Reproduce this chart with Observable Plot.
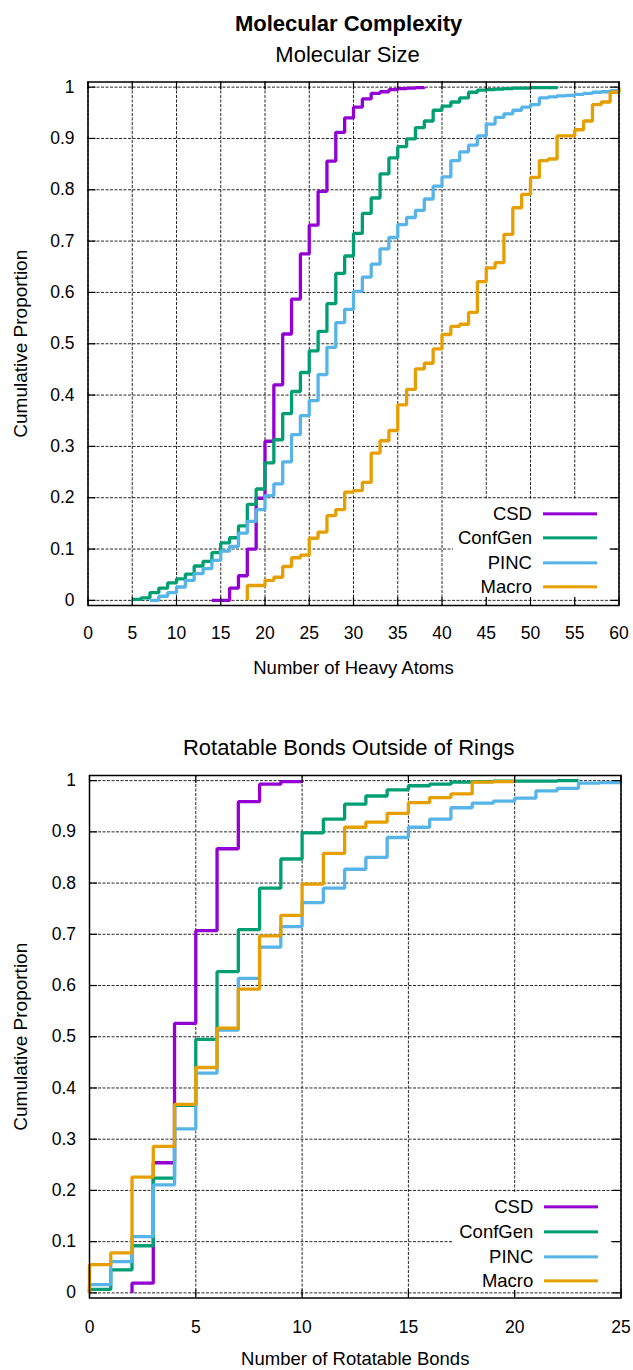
<!DOCTYPE html>
<html>
<head>
<meta charset="utf-8">
<script src="https://cdn.jsdelivr.net/npm/d3@7"></script>
<script src="https://cdn.jsdelivr.net/npm/@observablehq/plot@0.6"></script>
<style>
  body { margin: 0; background: #fff; font-family: "Liberation Sans", Arial, sans-serif; }
  #page { position: relative; width: 633px; height: 1370px; overflow: hidden; background: #fff; }
  #page svg { position: absolute; left: 0; }
  .ttl { position: absolute; white-space: nowrap; color: #000; font-size: 22px; line-height: 22px; transform: translateX(-50%); }
  .leg { position: absolute; background: #fff; }
  .leg .lab { position: absolute; font-size: 18.5px; line-height: 18.5px; color: #000; white-space: nowrap; transform: translate(-100%, -50%); }
  .leg .sw { position: absolute; height: 0; border-top: 3.3px solid; transform: translateY(-1.65px); }
</style>
</head>
<body>
<div id="page"></div>
<script>
// ---------------- data ----------------
const seriesNames = ["CSD", "ConfGen", "PINC", "Macro"];
const seriesColors = ["#9400D3", "#009E73", "#56B4E9", "#E69F00"];

const yTicks = [0, 0.1, 0.2, 0.3, 0.4, 0.5, 0.6, 0.7, 0.8, 0.9, 1];
const heavyTicks = [0, 5, 10, 15, 20, 25, 30, 35, 40, 45, 50, 55, 60];
const rotTicks = [0, 5, 10, 15, 20, 25];

// Molecular size: number of heavy atoms (cumulative proportion)
const sizeCSDx = [14, 16, 17, 18, 19, 20, 21, 22, 23, 24, 25, 26, 27, 28, 29, 30, 31, 32, 33, 34, 35, 36, 37, 38];
const sizeCSDy = [0, 0.024, 0.048, 0.100, 0.199, 0.310, 0.420, 0.519, 0.587, 0.675, 0.731, 0.797, 0.856, 0.912, 0.940, 0.961, 0.977, 0.988, 0.991, 0.995, 0.997, 0.998, 0.999, 1.0];

const sizeConfGenX = [5, 6, 7, 8, 9, 10, 11, 12, 13, 14, 15, 16, 17, 18, 19, 20, 21, 22, 23, 24, 25, 26, 27, 28, 29, 30, 31, 32, 33, 34, 35, 36, 37, 38, 39, 40, 41, 42, 43, 44, 45, 46, 47, 48, 49, 50, 51, 52, 53];
const sizeConfGenY = [0.002, 0.005, 0.015, 0.024, 0.034, 0.042, 0.051, 0.067, 0.076, 0.093, 0.112, 0.122, 0.145, 0.187, 0.217, 0.268, 0.313, 0.364, 0.407, 0.444, 0.486, 0.524, 0.578, 0.637, 0.671, 0.715, 0.754, 0.784, 0.831, 0.862, 0.884, 0.899, 0.921, 0.934, 0.955, 0.963, 0.971, 0.979, 0.990, 0.994, 0.995, 0.996, 0.997, 0.998, 0.998, 0.999, 0.999, 0.999, 1.0];

const sizePINCx = [7, 8, 9, 10, 11, 12, 13, 14, 15, 16, 17, 18, 19, 20, 21, 22, 23, 24, 25, 26, 27, 28, 29, 30, 31, 32, 33, 34, 35, 36, 37, 38, 39, 40, 41, 42, 43, 44, 45, 46, 47, 48, 49, 50, 51, 52, 53, 54, 55, 56, 57, 58, 59, 60];
const sizePINCy = [0, 0.008, 0.015, 0.026, 0.039, 0.052, 0.062, 0.078, 0.096, 0.105, 0.131, 0.154, 0.177, 0.204, 0.227, 0.270, 0.323, 0.360, 0.389, 0.440, 0.493, 0.541, 0.567, 0.602, 0.630, 0.655, 0.685, 0.707, 0.732, 0.746, 0.760, 0.782, 0.807, 0.825, 0.857, 0.874, 0.887, 0.905, 0.928, 0.941, 0.948, 0.955, 0.961, 0.966, 0.979, 0.981, 0.983, 0.984, 0.986, 0.988, 0.990, 0.991, 0.993, 0.995];

const sizeMacroX = [18, 18, 20, 21, 22, 23, 24, 25, 26, 27, 28, 29, 30, 31, 32, 33, 34, 35, 36, 37, 38, 39, 40, 41, 42, 43, 44, 45, 46, 47, 48, 49, 50, 51, 52, 53, 55, 56, 57, 58, 59, 60];
const sizeMacroY = [0, 0.029, 0.039, 0.045, 0.066, 0.083, 0.088, 0.121, 0.133, 0.165, 0.177, 0.211, 0.214, 0.230, 0.287, 0.311, 0.331, 0.381, 0.411, 0.451, 0.462, 0.490, 0.518, 0.534, 0.538, 0.561, 0.621, 0.648, 0.658, 0.713, 0.765, 0.791, 0.824, 0.857, 0.860, 0.905, 0.917, 0.934, 0.966, 0.971, 0.990, 1.0];

// Rotatable bonds outside of rings (cumulative proportion)
const rotCSDx = [2, 2, 3, 4, 5, 6, 7, 8, 9, 10];
const rotCSDy = [0, 0.019, 0.254, 0.526, 0.707, 0.867, 0.959, 0.993, 0.998, 1.0];

const rotConfGenX = [0, 0, 1, 2, 3, 4, 5, 6, 7, 8, 9, 10, 11, 12, 13, 14, 15, 16, 17, 18, 19, 20, 21, 22, 23];
const rotConfGenY = [0, 0.007, 0.045, 0.092, 0.224, 0.366, 0.495, 0.627, 0.709, 0.790, 0.847, 0.898, 0.925, 0.954, 0.970, 0.982, 0.990, 0.993, 0.997, 0.998, 0.999, 0.999, 0.999, 1.0, 1.0];

const rotPINCx = [0, 0, 1, 2, 3, 4, 5, 6, 7, 8, 9, 10, 11, 12, 13, 14, 15, 16, 17, 18, 19, 20, 21, 22, 23, 24, 25];
const rotPINCy = [0, 0.016, 0.061, 0.110, 0.211, 0.320, 0.429, 0.513, 0.614, 0.675, 0.715, 0.762, 0.790, 0.827, 0.850, 0.889, 0.909, 0.925, 0.947, 0.956, 0.960, 0.966, 0.980, 0.985, 0.995, 0.996, 0.997];

const rotMacroX = [0, 0, 1, 2, 3, 4, 5, 6, 7, 8, 9, 10, 11, 12, 13, 14, 15, 16, 17, 18, 19, 20];
const rotMacroY = [0, 0.055, 0.078, 0.226, 0.286, 0.368, 0.440, 0.517, 0.593, 0.697, 0.737, 0.798, 0.858, 0.909, 0.919, 0.936, 0.957, 0.967, 0.974, 0.997, 0.998, 1.0];

// ---------------- build tables ----------------
function rows(pairs) {
  const out = [];
  pairs.forEach(([name, xs, ys]) => xs.forEach((x, i) => out.push({series: name, x, y: ys[i]})));
  return out;
}
const sizeData = rows([
  ["CSD", sizeCSDx, sizeCSDy],
  ["ConfGen", sizeConfGenX, sizeConfGenY],
  ["PINC", sizePINCx, sizePINCy],
  ["Macro", sizeMacroX, sizeMacroY]
]);
const rotData = rows([
  ["CSD", rotCSDx, rotCSDy],
  ["ConfGen", rotConfGenX, rotConfGenY],
  ["PINC", rotPINCx, rotPINCy],
  ["Macro", rotMacroX, rotMacroY]
]);

// ---------------- drawing ----------------
const FONT = '"Liberation Sans", Arial, sans-serif';
const W = 633;
const page = document.getElementById("page");

function panel(cfg) {
  const fh = cfg.height - cfg.mt - cfg.mb;
  const fw = W - cfg.ml - cfg.mr;
  const gridStyle = {stroke: "#000", strokeOpacity: 0.85, strokeWidth: 1, strokeDasharray: "3,1.5"};
  const tickStyle = {stroke: "#000", strokeWidth: 1.2};
  const svg = Plot.plot({
    width: W,
    height: cfg.height,
    marginTop: cfg.mt,
    marginBottom: cfg.mb,
    marginLeft: cfg.ml,
    marginRight: cfg.mr,
    style: {fontFamily: FONT, background: "transparent", color: "#000", overflow: "visible"},
    x: {domain: cfg.xDomain, axis: null},
    y: {domain: [-0.01, 1.01], axis: null},
    color: {domain: seriesNames, range: seriesColors},
    marks: [
      Plot.gridX(cfg.xTicks, gridStyle),
      Plot.gridY(yTicks, gridStyle),
      Plot.line(cfg.data, {x: "x", y: "y", z: "series", stroke: "series", curve: "step-after",
        strokeWidth: 3.3, strokeLinejoin: "miter", strokeLinecap: "butt"}),
      Plot.ruleX(cfg.xTicks, {...tickStyle, insetTop: fh - 8}),
      Plot.ruleX(cfg.xTicks, {...tickStyle, insetBottom: fh - 8}),
      Plot.ruleY(yTicks, {...tickStyle, insetRight: fw - 8}),
      Plot.ruleY(yTicks, {...tickStyle, insetLeft: fw - 8}),
      Plot.frame({stroke: "#000", strokeWidth: 1.5}),
      Plot.axisX(cfg.xTicks, {tickSize: 0, tickPadding: cfg.xPad, fontSize: 17.5, label: null,
        tickFormat: d => String(d)}),
      Plot.axisY(yTicks, {tickSize: 0, tickPadding: 13.5, fontSize: 17.5, label: null,
        tickFormat: d => String(+d.toFixed(1))}),
      Plot.text([cfg.xLabel], {frameAnchor: "bottom", dy: cfg.xLabelDy, fontSize: 18.5,
        textAnchor: "middle", lineAnchor: "middle"}),
      Plot.text(["Cumulative Proportion"], {frameAnchor: "left", dx: cfg.yLabelDx, rotate: -90,
        fontSize: 19, textAnchor: "middle", lineAnchor: "middle"})
    ]
  });
  svg.style.top = cfg.top + "px";
  page.appendChild(svg);
}

function title(text, cx, top, bold) {
  const d = document.createElement("div");
  d.className = "ttl";
  d.textContent = text;
  d.style.left = cx + "px";
  d.style.top = top + "px";
  if (bold) d.style.fontWeight = "bold";
  page.appendChild(d);
}

function legend(box, textRight, line, rowYs) {
  const L = document.createElement("div");
  L.className = "leg";
  L.style.left = box[0] + "px";
  L.style.top = box[1] + "px";
  L.style.width = (box[2] - box[0]) + "px";
  L.style.height = (box[3] - box[1]) + "px";
  seriesNames.forEach((name, i) => {
    const t = document.createElement("div");
    t.className = "lab";
    t.textContent = name;
    t.style.left = (textRight - box[0]) + "px";
    t.style.top = (rowYs[i] - box[1]) + "px";
    L.appendChild(t);
    const s = document.createElement("div");
    s.className = "sw";
    s.style.left = (line[0] - box[0]) + "px";
    s.style.width = (line[1] - line[0]) + "px";
    s.style.top = (rowYs[i] - box[1]) + "px";
    s.style.borderTopColor = seriesColors[i];
    L.appendChild(s);
  });
  page.appendChild(L);
}

panel({top: 0, height: 690, mt: 81.5, mb: 85, ml: 87.5, mr: 14.5, xDomain: [0, 60], xTicks: heavyTicks,
  data: sizeData, xLabel: "Number of Heavy Atoms", xPad: 21.5, xLabelDy: 63, yLabelDx: -67.5});
panel({top: 690, height: 680, mt: 85, mb: 72.5, ml: 89, mr: 12.5, xDomain: [0, 25], xTicks: rotTicks,
  data: rotData, xLabel: "Number of Rotatable Bonds", xPad: 23, xLabelDy: 61.5, yLabelDx: -69});

title("Molecular Complexity", 348.6, 13.1, true);
title("Molecular Size", 347.5, 44.1, false);
title("Rotatable Bonds Outside of Rings", 348.7, 737, false);

legend([452.7, 499, 608, 597], 532, [542.7, 596.7], [514, 538.3, 562.7, 586.7]);
legend([453.3, 1193, 610, 1290], 533.3, [544.3, 598.3], [1207.3, 1232, 1256.7, 1280.7]);
</script>
</body>
</html>
